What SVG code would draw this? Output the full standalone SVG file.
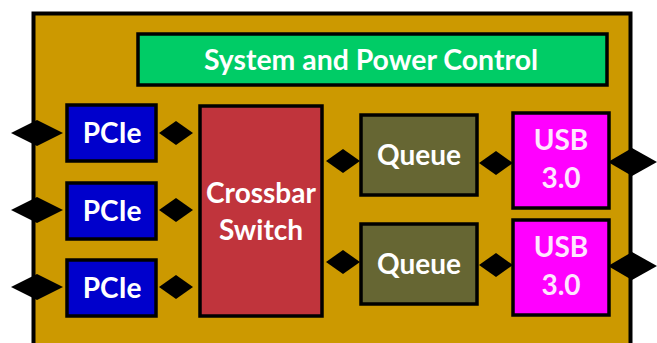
<svg xmlns="http://www.w3.org/2000/svg" width="657" height="343" viewBox="0 0 657 343">
  <style>
    .box { stroke: #000; stroke-width: 3.5; }
    .lbl { font-family: Lato, "Open Sans", "Liberation Sans", sans-serif; font-weight: bold; font-size: 28px; fill: #fff; text-anchor: middle; }
    .usb { fill: #ffe6ff; }
    .port { fill: #000; }
  </style>
  <rect width="657" height="343" fill="#fff"/>
  <!-- chip body -->
  <g id="chip">
    <rect x="33.5" y="13.5" width="597" height="340" fill="#cc9900" stroke="#000" stroke-width="4"/>
  </g>
  <g id="system-power">
    <rect class="box" x="138" y="34" width="469" height="51" fill="#00cc66"/>
    <text class="lbl" x="371" y="70" textLength="334" lengthAdjust="spacingAndGlyphs">System and Power Control</text>
  </g>
  <g id="pcie1">
    <rect class="box" x="67" y="105" width="89" height="56" fill="#0000cc"/>
    <text class="lbl" x="112" y="143">PCIe</text>
  </g>
  <g id="pcie2">
    <rect class="box" x="67" y="183" width="89" height="56" fill="#0000cc"/>
    <text class="lbl" x="112" y="221">PCIe</text>
  </g>
  <g id="pcie3">
    <rect class="box" x="67" y="260" width="89" height="56" fill="#0000cc"/>
    <text class="lbl" x="112" y="298">PCIe</text>
  </g>
  <g id="crossbar">
    <rect class="box" x="200" y="106" width="122" height="210" fill="#c0343c"/>
    <text class="lbl" x="261" y="203">Crossbar</text>
    <text class="lbl" x="261" y="240">Switch</text>
  </g>
  <g id="queue1">
    <rect class="box" x="361" y="115" width="116" height="80" fill="#666633"/>
    <text class="lbl" x="419" y="165">Queue</text>
  </g>
  <g id="queue2">
    <rect class="box" x="361" y="224" width="116" height="80" fill="#666633"/>
    <text class="lbl" x="419" y="274">Queue</text>
  </g>
  <g id="usb1">
    <rect class="box" x="513" y="113" width="96" height="95" fill="#ff00ff"/>
    <text class="lbl usb" x="561" y="150">USB</text>
    <text class="lbl usb" x="561" y="188">3.0</text>
  </g>
  <g id="usb2">
    <rect class="box" x="513" y="220" width="96" height="95" fill="#ff00ff"/>
    <text class="lbl usb" x="561" y="257">USB</text>
    <text class="lbl usb" x="561" y="295">3.0</text>
  </g>
  <!-- diamond port connectors -->
  <g id="connectors">
    <polygon class="port" points="11,133 37,120 63,133 37,146"/>
    <polygon class="port" points="11,210 37,197 63,210 37,223"/>
    <polygon class="port" points="11,287 37,274 63,287 37,300"/>
    <polygon class="port" points="159,133 176,121 193,133 176,145"/>
    <polygon class="port" points="159,210 176,198 193,210 176,222"/>
    <polygon class="port" points="159,287 176,275 193,287 176,299"/>
    <polygon class="port" points="326,161 343,149 360,161 343,173"/>
    <polygon class="port" points="326,262 343,250 360,262 343,274"/>
    <polygon class="port" points="479,163 496,151 513,163 496,175"/>
    <polygon class="port" points="479,265 496,253 513,265 496,277"/>
    <polygon class="port" points="608,162 632,148 657,162 632,176"/>
    <polygon class="port" points="608,266 632,252 657,266 632,280"/>
  </g>
</svg>
